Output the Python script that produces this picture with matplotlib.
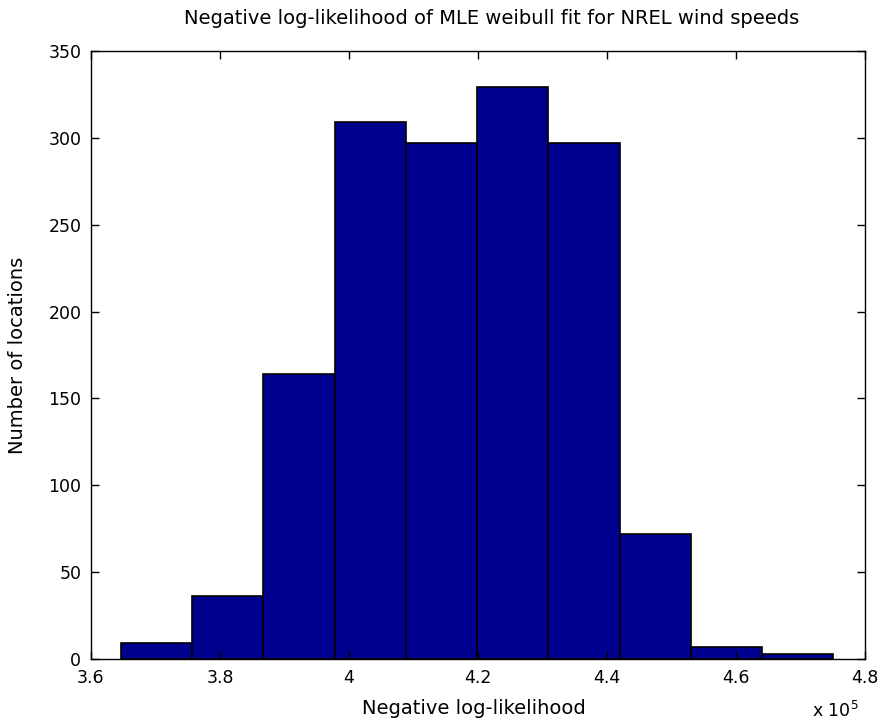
import numpy as np
import matplotlib
matplotlib.use("Agg")
import matplotlib.pyplot as plt
from matplotlib.ticker import FuncFormatter

# histogram counts (10 bins)
counts = [9, 36, 164, 309, 297, 329, 297, 72, 7, 3]
bin_lo = 3.6465e5
bin_hi = 4.7508e5
xticks = [3.6e5, 3.8e5, 4.0e5, 4.2e5, 4.4e5, 4.6e5, 4.8e5]
yticks = [0, 50, 100, 150, 200, 250, 300, 350]

plt.rcParams['font.family'] = ['DejaVu Sans']
fs = 12.5   # tick labels
lfs = 14    # title / axis labels

edges = np.linspace(bin_lo, bin_hi, len(counts) + 1)
w = edges[1] - edges[0]

W, H = 879, 721
fig = plt.figure(figsize=(W / 100, H / 100), dpi=100)
ax = fig.add_axes([91 / W, 1 - 659 / H, (865 - 91) / W, (659 - 51) / H])

ax.bar(edges[:-1], counts, w, align='edge', color=(0, 0, 0.5625),
       edgecolor='black', linewidth=1.2)

ax.set_xlim(3.6e5, 4.8e5)
ax.set_ylim(0, 350)
ax.set_xticks(xticks)
ax.set_yticks(yticks)
ax.xaxis.set_major_formatter(FuncFormatter(lambda v, p: '%g' % (v / 1e5)))
ax.tick_params(direction='in', top=True, right=True, length=6, width=1,
               labelsize=fs, colors='black')
ax.tick_params(axis='x', pad=7)
ax.tick_params(axis='y', pad=7)
for s in ax.spines.values():
    s.set_linewidth(1)

# labels placed where they sit in the picture
fig.text(492 / W, 1 - 18 / H,
         "Negative log-likelihood of MLE weibull fit for NREL wind speeds",
         fontsize=lfs, ha='center', va='center')
fig.text(474 / W, 1 - 709 / H, "Negative log-likelihood",
         fontsize=lfs, ha='center', va='center')
fig.text(18 / W, 1 - 355 / H, "Number of locations", rotation=90,
         fontsize=lfs, ha='center', va='center')
fig.text(835 / W, 1 - 711 / H, "x 10$^5$", fontsize=fs, ha='center', va='center')

fig.savefig("out.png", dpi=100)
